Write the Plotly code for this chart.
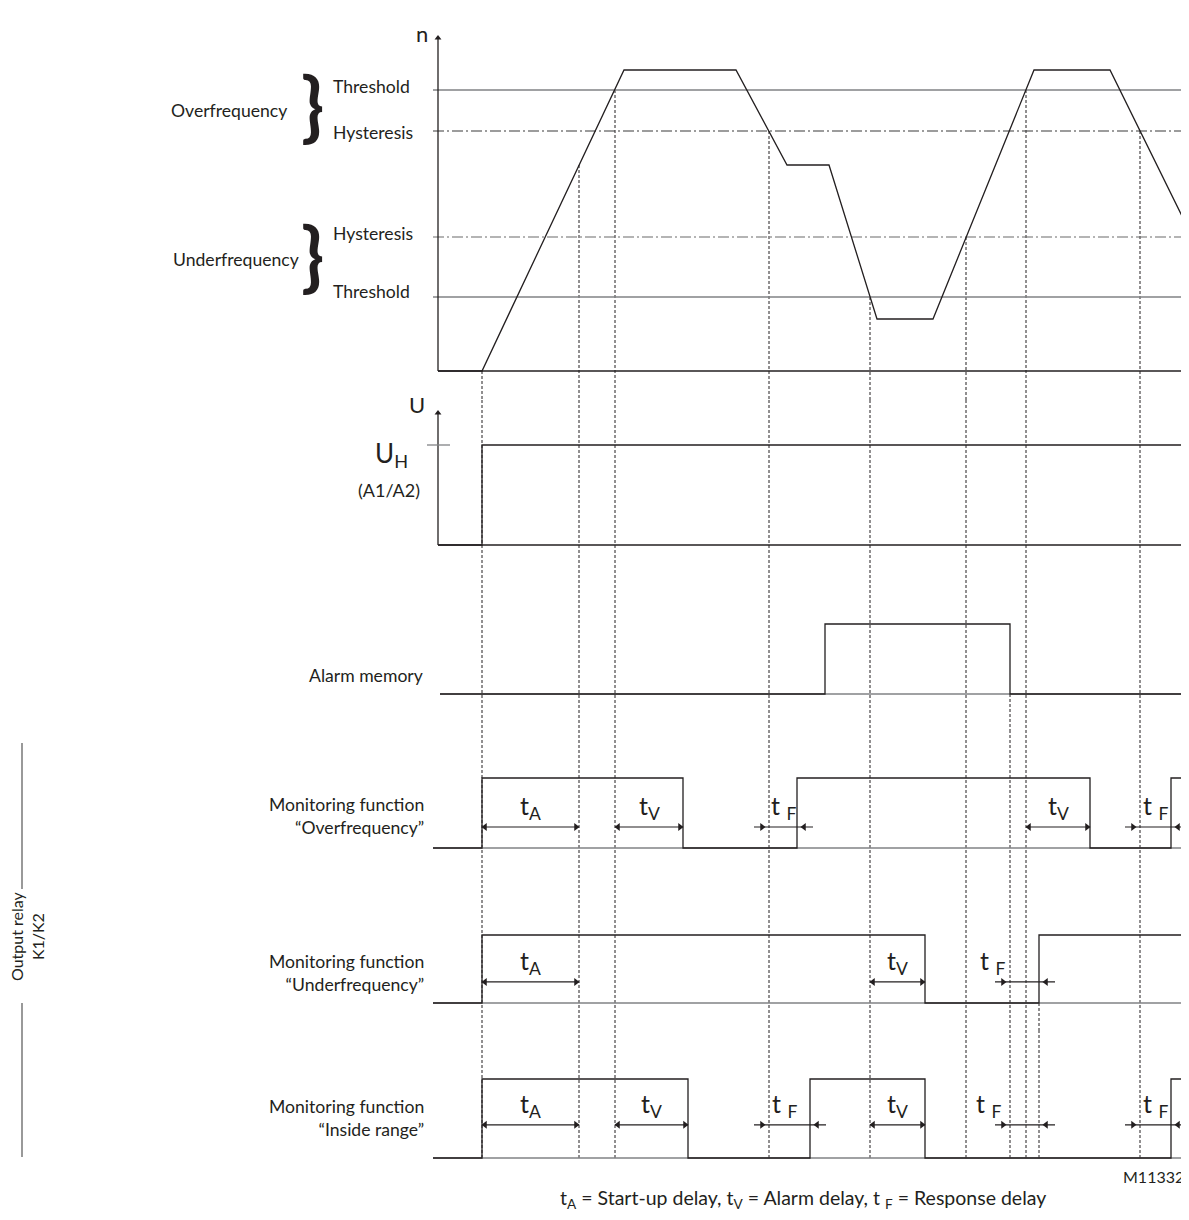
import plotly.graph_objects as go

W, H = 1189, 1220
OX, OY = 8, 8                  # page body offset of the figure
FW, FH = W - OX, H - 2 * OY    # figure size (keeps the page free of scrollbars)

# ---------------- data (time axis in drawing units) ----------------
n_time = [438, 482, 624, 736, 787, 829, 877, 933, 1034, 1110, 1184]
n_speed = [0, 0, 301, 301, 206, 206, 52, 52, 301, 301, 151]
over_threshold = 281
over_hysteresis = 240
under_hysteresis = 134
under_threshold = 74
n_axis_top = 333

u_time = [438, 482, 482, 1183]
u_level = [0, 0, 1, 1]

mem_time = [440, 825, 825, 1010, 1010, 1185]
mem_level = [0, 0, 1, 1, 0, 0]

over_time = [433, 482, 482, 683, 683, 797, 797, 1090, 1090, 1171, 1171, 1189]
over_level = [0, 0, 1, 1, 0, 0, 1, 1, 0, 0, 1, 1]
under_time = [433, 482, 482, 925, 925, 1039, 1039, 1189]
under_level = [0, 0, 1, 1, 0, 0, 1, 1]
inside_time = [433, 482, 482, 688, 688, 810, 810, 925, 925, 1171, 1171, 1189]
inside_level = [0, 0, 1, 1, 0, 0, 1, 1, 0, 0, 1, 1]

event_time = [482, 579, 615, 769, 870, 966, 1010, 1026, 1039, 1140]
event_panel = ['n', 'n', 'n', 'n', 'n', 'n', 'mem', 'n', 'under', 'n']
event_level = [0, 206, 281, 240, 74, 134, 0, 281, 0, 240]

over_delay_kind = ['A', 'V', 'F', 'V', 'F']
over_delay_start = [482, 615, 769, 1026, 1140]
over_delay_end = [579, 683, 797, 1090, 1171]
under_delay_kind = ['A', 'V', 'F']
under_delay_start = [482, 870, 1010]
under_delay_end = [579, 925, 1039]
inside_delay_kind = ['A', 'V', 'F', 'V', 'F', 'F']
inside_delay_start = [482, 615, 769, 870, 1010, 1140]
inside_delay_end = [579, 688, 810, 925, 1039, 1171]

# ---------------- layout of panels ----------------
INK = '#231f20'
GRAY = '#808285'
FONT = 'Lato'

panels = {
    'n':      dict(axis='y',  top=OY,   bottom=400,     base=371,  unit=1.0),
    'u':      dict(axis='y2', top=400,  bottom=580,     base=545,  unit=100.0),
    'mem':    dict(axis='y3', top=580,  bottom=730,     base=694,  unit=70.0),
    'over':   dict(axis='y4', top=730,  bottom=880,     base=848,  unit=70.0),
    'under':  dict(axis='y5', top=880,  bottom=1030,    base=1003, unit=68.0),
    'inside': dict(axis='y6', top=1030, bottom=OY + FH, base=1158, unit=79.0),
}
order = ['n', 'u', 'mem', 'over', 'under', 'inside']


def py(px):
    return 1 - (px - OY) / FH


for p in panels.values():
    p['domain'] = [max(0.0, py(p['bottom'])), min(1.0, py(p['top']))]
    p['range'] = [-(p['bottom'] - p['base']) / p['unit'], (p['base'] - p['top']) / p['unit']]

fig = go.Figure()


def line(panel, x, y, color=INK, width=1.3, dash='solid'):
    fig.add_trace(go.Scatter(x=x, y=y, mode='lines', yaxis=panels[panel]['axis'],
                             line=dict(color=color, width=width, dash=dash),
                             hoverinfo='skip', showlegend=False))


def heads(panel, x, y, symbols, size=7, color=INK):
    fig.add_trace(go.Scatter(x=x, y=y, mode='markers', yaxis=panels[panel]['axis'],
                             marker=dict(symbol=symbols, size=size, color=color, line=dict(width=0)),
                             hoverinfo='skip', showlegend=False, cliponaxis=False))


DASHDOT = '11px,3px,2px,3px'

# dashed event lines spanning panels
segs = {k: ([], []) for k in order}
for t, pn, lv in zip(event_time, event_panel, event_level):
    i0 = order.index(pn)
    for i in range(i0, len(order)):
        k = order[i]
        ytop = lv if i == i0 else panels[k]['range'][1]
        ybot = 0 if i == len(order) - 1 else panels[k]['range'][0]
        segs[k][0].extend([t, t, None])
        segs[k][1].extend([ytop, ybot, None])
for k in order:
    if segs[k][0]:
        line(k, segs[k][0], segs[k][1], color=INK, width=1.0, dash='3px,2px')

# n panel
line('n', [433, 1183], [over_threshold] * 2, color=GRAY)
line('n', [433, 1183], [over_hysteresis] * 2, color='#3a3a3a', width=1.2, dash=DASHDOT)
line('n', [433, 1183], [under_hysteresis] * 2, color='#6a6a6a', width=1.2, dash=DASHDOT)
line('n', [433, 1183], [under_threshold] * 2, color=GRAY)
heads('n', [1183], [under_threshold], ['triangle-right'], size=7)
line('n', [438, 1183], [0, 0])
line('n', [438, 438], [0, n_axis_top])
heads('n', [438], [n_axis_top], ['triangle-up'], size=6)
line('n', n_time, n_speed)

# U panel
line('u', [438, 438], [0, 1.32])
heads('u', [438], [1.32], ['triangle-up'], size=6)
line('u', [427, 450], [1, 1], color=GRAY)
line('u', [438, 1183], [0, 0])
heads('u', [1185], [0], ['triangle-right'], size=6)
line('u', u_time, u_level)

# alarm memory
line('mem', [440, 1185], [0, 0], color=GRAY)
line('mem', mem_time, mem_level)

# relays
for k, tt, lv in [('over', over_time, over_level), ('under', under_time, under_level),
                  ('inside', inside_time, inside_level)]:
    line(k, [433, 1189], [0, 0], color=GRAY)
    line(k, tt, lv)

# delay arrows and labels
arrow_level = {'over': 0.30, 'under': 0.31, 'inside': 0.42}
label_dx = {'under': [0, 0, -32], 'inside': [0, 0, -5, 0, -36, 0], 'over': [0, 0, 0, 0, 0]}
annotations = []
for k, kinds, starts, ends in [('over', over_delay_kind, over_delay_start, over_delay_end),
                               ('under', under_delay_kind, under_delay_start, under_delay_end),
                               ('inside', inside_delay_kind, inside_delay_start, inside_delay_end)]:
    ya = arrow_level[k]
    for j, (kd, s, e) in enumerate(zip(kinds, starts, ends)):
        if kd == 'F':
            line(k, [s - 15, e + 16], [ya, ya], width=1.2)
            heads(k, [s - 7, e + 7], [ya, ya], ['triangle-right', 'triangle-left'], size=7)
            txt = 't <sub>F</sub>'
        else:
            line(k, [s, e], [ya, ya], width=1.2)
            heads(k, [s + 3, e - 3], [ya, ya], ['triangle-left', 'triangle-right'], size=7)
            txt = 't<sub>%s</sub>' % kd
        annotations.append(dict(x=(s + e) / 2 + label_dx[k][j], y=ya, xref='x',
                                yref=panels[k]['axis'], text=txt, showarrow=False,
                                yshift=20, font=dict(size=25, color=INK, family=FONT)))


def label(x, y, text, size=17.6, xanchor='right', align='right', **kw):
    annotations.append(dict(x=x, y=py(y), xref='x', yref='paper', text=text, showarrow=False,
                            xanchor=xanchor, yanchor='middle', align=align,
                            font=dict(size=size, color=INK, family=FONT), **kw))


label(289, 110, 'Overfrequency')
label(301, 259, 'Underfrequency')
label(331, 87, 'Threshold', xanchor='left', align='left')
label(331, 132, 'Hysteresis', xanchor='left', align='left')
label(331, 234, 'Hysteresis', xanchor='left', align='left')
label(331, 291, 'Threshold', xanchor='left', align='left')
label(312, 104, '<b>}</b>', size=76, xanchor='center', align='center')
label(312, 254, '<b>}</b>', size=76, xanchor='center', align='center')
label(422, 33, 'n', size=22, xanchor='center', align='center')
label(417, 404, 'U', size=22, xanchor='center', align='center')
label(410, 455, 'U<sub>H</sub>', size=26)
label(422, 490, '(A1/A2)', size=18)
label(425, 675, 'Alarm memory')
label(426, 816, 'Monitoring function<br>“Overfrequency”')
label(426, 973, 'Monitoring function<br>“Underfrequency”')
label(426, 1118, 'Monitoring function<br>“Inside range”')
label(1186, 1176, 'M11332', size=16)
label(803, 1199, 't<sub>A</sub> = Start-up delay, t<sub>V</sub> = Alarm delay, t <sub>F</sub> = Response delay',
      size=19.5, xanchor='center', align='center')
annotations.append(dict(x=27, y=py(936), xref='x', yref='paper', text='Output relay<br>K1/K2',
                        showarrow=False, textangle=-90, xanchor='center', yanchor='middle',
                        font=dict(size=16, color=INK, family=FONT)))

shapes = [
    dict(type='line', xref='x', yref='paper', x0=22, x1=22, y0=py(743), y1=py(889),
         line=dict(color='#555555', width=1.2)),
    dict(type='line', xref='x', yref='paper', x0=22, x1=22, y0=py(1003), y1=py(1157),
         line=dict(color='#555555', width=1.2)),
]

layout = dict(
    width=FW, height=FH, margin=dict(l=0, r=0, t=0, b=0),
    paper_bgcolor='white', plot_bgcolor='white', showlegend=False,
    xaxis=dict(range=[OX, W], domain=[0, 1], visible=False, fixedrange=True),
    annotations=annotations, shapes=shapes,
)
for k in order:
    p = panels[k]
    key = 'yaxis' if p['axis'] == 'y' else 'yaxis' + p['axis'][1:]
    layout[key] = dict(domain=p['domain'], range=p['range'], visible=False,
                       fixedrange=True, anchor='x')
fig.update_layout(**layout)
fig.write_html('out.html', config={'displayModeBar': False})
